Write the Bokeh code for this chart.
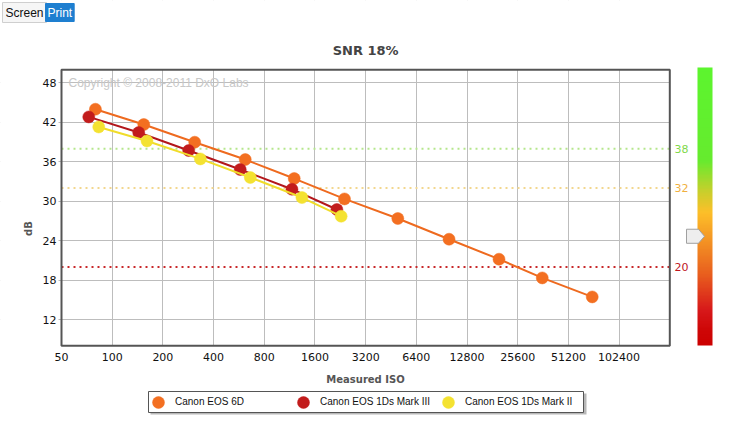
import numpy as np
from bokeh.plotting import figure
from bokeh.models import (FixedTicker, PrintfTickFormatter, Label, Legend, LegendItem,
                          ColorBar, LinearColorMapper, PolyAnnotation, BoxAnnotation, ColumnDataSource)
from bokeh.embed import file_html
from bokeh.resources import INLINE

# ---- data ----
cameras = ["Canon EOS 6D", "Canon EOS 1Ds Mark III", "Canon EOS 1Ds Mark II"]
iso_6d = [79.5, 154, 309, 617, 1205, 2396, 4968, 10010, 19820, 35800, 70900]
snr_6d = [44.0, 41.67, 38.98, 36.34, 33.45, 30.35, 27.37, 24.22, 21.18, 18.33, 15.44]
iso_1ds3 = [72.6, 143.7, 284.5, 576, 1168, 2159]
snr_1ds3 = [42.83, 40.45, 37.71, 34.82, 31.83, 28.74]
iso_1ds2 = [83.2, 161, 334, 661, 1339, 2289]
snr_1ds2 = [41.30, 39.17, 36.44, 33.61, 30.56, 27.72]
x_ticks = [50, 100, 200, 400, 800, 1600, 3200, 6400, 12800, 25600, 51200, 102400]
y_ticks = [12, 18, 24, 30, 36, 42, 48]
iso_min, iso_max = 50, 204800
db_min, db_max = 8, 50
thresholds = [38, 32, 20]
threshold_labels = ["38", "32", "20"]
marker_value = 24.67

# ---- styles ----
line_colors = ["#EE6A1F", "#B3171B", "#F0DC2A"]
marker_colors = ["#F36F21", "#C21C1C", "#F4E231"]
thr_line_colors = ["#B5E68C", "#F2D78E", "#C8282A"]
thr_text_colors = ["#7FD94A", "#F0B040", "#C0161E"]

# ---- page geometry (pixels) ----
W, H = 728, 422
BOX_L, BOX_R, BOX_T, BOX_B = 61.0, 669.3, 69.3, 345.3
px_oct = (BOX_R - BOX_L) / np.log2(iso_max / iso_min)
px_db = (BOX_B - BOX_T) / (db_max - db_min)
xr = (iso_min * 2 ** (-BOX_L / px_oct), iso_max * 2 ** ((W - BOX_R) / px_oct))
yr = (db_min - (H - BOX_B) / px_db, db_max + BOX_T / px_db)

def sy(page_y):
    return H - page_y

p = figure(width=W, height=H, x_axis_type="log", x_range=xr, y_range=yr,
           output_backend="svg", toolbar_location=None, min_border=0)
p.title.visible = False
p.outline_line_color = None
p.background_fill_color = "white"

for ax in (p.xaxis[0], p.yaxis[0]):
    ax.axis_line_color = None
    ax.major_label_text_font = "DejaVu Sans"
    ax.major_label_text_font_size = "11px"
    ax.major_label_text_color = "#111111"
    ax.axis_label_text_font = "DejaVu Sans"
    ax.axis_label_text_font_size = "10px"
    ax.axis_label_text_font_style = "bold"
    ax.axis_label_text_color = "#555555"
    ax.minor_tick_line_color = None

p.xaxis.fixed_location = db_min
p.xaxis.bounds = (iso_min, iso_max)
p.xaxis.ticker = FixedTicker(ticks=x_ticks)
p.xaxis.formatter = PrintfTickFormatter(format="%d")
p.xaxis.major_tick_out = 0
p.xaxis.major_tick_in = 0
p.xaxis.major_label_standoff = 7
p.xaxis.axis_label = "Measured ISO"
p.xaxis.axis_label_standoff = 10

p.yaxis.fixed_location = iso_min
p.yaxis.bounds = (db_min, db_max)
p.yaxis.ticker = FixedTicker(ticks=y_ticks)
p.yaxis.major_tick_out = 3
p.yaxis.major_tick_in = 0
p.yaxis.major_tick_line_color = "#BBBBBB"
p.yaxis.major_label_standoff = 2

p.xgrid.grid_line_color = "#BDBDBD"
p.ygrid.grid_line_color = "#BDBDBD"

# white covers outside the plotting box (trim grid lines)
covers = [dict(left=-20, left_units="screen", right=iso_min),
          dict(left=iso_max, right=W + 20, right_units="screen"),
          dict(top=db_min, bottom=-20, bottom_units="screen"),
          dict(bottom=db_max, top=H + 20, top_units="screen")]
for kw in covers:
    p.add_layout(BoxAnnotation(fill_color="white", fill_alpha=1, line_alpha=0,
                               level="underlay", **kw))

# threshold dotted lines
for t, lc in zip(thresholds, thr_line_colors):
    p.segment(x0=[iso_min], x1=[iso_max], y0=[t], y1=[t], line_color=lc, line_width=2,
              line_dash="2 4")

# plotting box outline
p.add_layout(BoxAnnotation(left=iso_min, right=iso_max, bottom=db_min, top=db_max,
                           fill_alpha=0, line_color="#555555", line_alpha=1, line_width=2))

# title
p.add_layout(Label(x=(BOX_L + BOX_R) / 2, y=sy(50), x_units="screen", y_units="screen",
                   text="SNR 18%", text_align="center", text_baseline="middle",
                   text_font="DejaVu Sans", text_font_size="13px", text_font_style="bold",
                   text_color="#444444"))

# y axis title
p.add_layout(Label(x=28, y=sy(228), x_units="screen", y_units="screen", angle=np.pi / 2,
                   text="dB", text_align="center", text_baseline="middle",
                   text_font="DejaVu Sans", text_font_size="10px", text_font_style="bold",
                   text_color="#555555"))

# copyright
p.add_layout(Label(x=68, y=sy(82), x_units="screen", y_units="screen",
                   text="Copyright \u00a9 2008-2011 DxO Labs", text_baseline="middle",
                   text_color="#C8C8C8", text_font_size="12px", text_font="Liberation Sans"))

# series
series = [(iso_6d, snr_6d), (iso_1ds3, snr_1ds3), (iso_1ds2, snr_1ds2)]
items = []
for (xs, ys), lc, mc, name in zip(series, line_colors, marker_colors, cameras):
    src = ColumnDataSource(dict(x=xs, y=ys))
    p.line("x", "y", source=src, line_color=lc, line_width=2)
    r = p.scatter("x", "y", source=src, size=12, fill_color=mc, line_color=mc, line_width=0.5)
    items.append(LegendItem(label=name, renderers=[r]))

# legend frame with shadow
p.add_layout(BoxAnnotation(left=150, right=586, bottom=sy(414), top=sy(393),
                           left_units="screen", right_units="screen",
                           bottom_units="screen", top_units="screen",
                           fill_color="#9A9A9A", fill_alpha=0.7, line_alpha=0))
p.add_layout(BoxAnnotation(left=148, right=583, bottom=sy(412), top=sy(391),
                           left_units="screen", right_units="screen",
                           bottom_units="screen", top_units="screen",
                           fill_color="white", fill_alpha=1, line_color="#555555",
                           line_alpha=1, line_width=1))

legend = Legend(items=items, orientation="horizontal", location=(143, sy(416.5)),
                label_text_font="Liberation Sans", label_text_font_size="10px",
                label_text_color="#111111", glyph_width=30, glyph_height=30,
                label_standoff=2, label_width=113, spacing=0, padding=0, margin=0,
                border_line_color=None, background_fill_alpha=0)
p.add_layout(legend)

# threshold labels at the right of the box
for t, tc, tl in zip(thresholds, thr_text_colors, threshold_labels):
    p.add_layout(Label(x=674, y=t, x_units="screen", y_units="data", text=tl,
                       text_baseline="middle", text_color=tc, text_font_size="11px",
                       text_font="DejaVu Sans"))

# colour scale bar on the right
stops_y = [67, 160, 190, 212, 245, 275, 310, 330, 345]
stops_c = ["#5CF52E", "#66EB2E", "#C5D02C", "#FDBF29", "#F28C23", "#E85C1E", "#D7181A", "#CE0606", "#CC0000"]
def hex2rgb(h):
    return [int(h[i:i + 2], 16) for i in (1, 3, 5)]
rgb = np.array([hex2rgb(c) for c in stops_c], dtype=float)
fr = np.array([(345 - y) / (345 - 67) for y in stops_y])
order = np.argsort(fr)
fr = fr[order]; rgb = rgb[order]
n = 200
pal = []
for i in range(n):
    f = (i + 0.5) / n
    c = [np.interp(f, fr, rgb[:, k]) for k in range(3)]
    pal.append("#%02x%02x%02x" % tuple(int(round(v)) for v in c))
mapper = LinearColorMapper(palette=pal, low=0, high=1)
cb = ColorBar(color_mapper=mapper, location=(697, sy(345)), width=15, height=278, padding=0, margin=0,
              bar_line_color=None, major_tick_line_color=None, minor_tick_line_color=None,
              major_label_text_font_size="0px", ticker=FixedTicker(ticks=[]),
              background_fill_color=None, border_line_color=None)
p.add_layout(cb)

# arrow marker on the scale
d = 1.07
p.add_layout(PolyAnnotation(xs=[686, 698, 704, 698, 686],
                            ys=[marker_value + d, marker_value + d, marker_value, marker_value - d, marker_value - d],
                            xs_units="screen", ys_units="data",
                            fill_color="#EEEEEE", fill_alpha=1, line_color="#A0A0A0",
                            line_alpha=1, line_width=1))

# Screen / Print buttons
p.add_layout(Label(x=2, y=sy(12), x_units="screen", y_units="screen", text="Screen",
                   text_baseline="middle", text_color="#111111", text_font_size="12px",
                   text_font="Liberation Sans", background_fill_color="#F6F6F6",
                   border_line_color="#CFCFCF", padding=3))
p.add_layout(Label(x=45, y=sy(12), x_units="screen", y_units="screen", text="Print",
                   text_baseline="middle", text_color="white", text_font_size="12px",
                   text_font="Liberation Sans", background_fill_color="#1E7FD0",
                   border_line_color="#1E7FD0", padding=2))

open("out.html", "w").write(file_html(p, INLINE))
